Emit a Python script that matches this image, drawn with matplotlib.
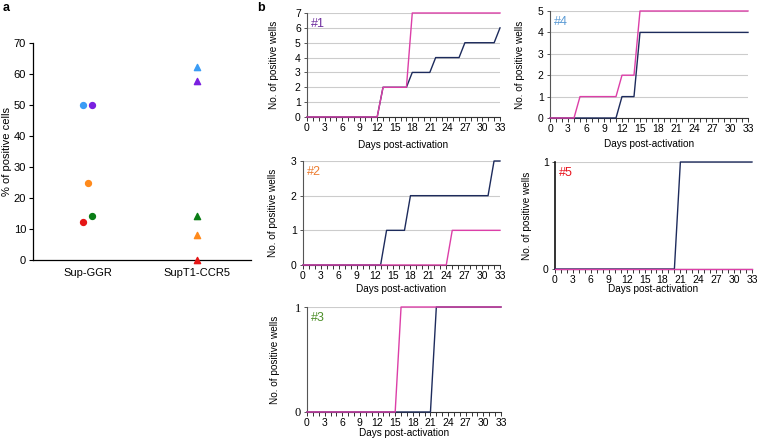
import numpy as np
import matplotlib
matplotlib.use("Agg")
import matplotlib.pyplot as plt
from matplotlib.ticker import MultipleLocator

plt.rcParams['font.family'] = ['Liberation Sans', 'DejaVu Sans']

# panel a: % of positive cells per donor
groups = ["Sup-GGR", "SupT1-CCR5"]
donorColors = ["#3a9cf5", "#7a1fe0", "#ff8a1c", "#e51616", "#0a7d16"]
supGGR = [50.0, 50.0, 24.8, 12.4, 14.3]
supGGRJitter = [-0.04, 0.04, 0.0, -0.04, 0.04]
supT1 = [62.3, 57.8, 8.2, 0.0, 14.2]

# panel b: positive wells per day
days = list(range(34))
pink1 = [0, 0, 0, 0, 0, 0, 0, 0, 0, 0, 0, 0, 0, 2, 2, 2, 2, 2, 7, 7, 7, 7, 7, 7, 7, 7, 7, 7, 7, 7, 7, 7, 7, 7]
navy1 = [0, 0, 0, 0, 0, 0, 0, 0, 0, 0, 0, 0, 0, 2, 2, 2, 2, 2, 3, 3, 3, 3, 4, 4, 4, 4, 4, 5, 5, 5, 5, 5, 5, 6]
pink4 = [0, 0, 0, 0, 0, 1, 1, 1, 1, 1, 1, 1, 2, 2, 2, 5, 5, 5, 5, 5, 5, 5, 5, 5, 5, 5, 5, 5, 5, 5, 5, 5, 5, 5]
navy4 = [0, 0, 0, 0, 0, 0, 0, 0, 0, 0, 0, 0, 1, 1, 1, 4, 4, 4, 4, 4, 4, 4, 4, 4, 4, 4, 4, 4, 4, 4, 4, 4, 4, 4]
pink2 = [0, 0, 0, 0, 0, 0, 0, 0, 0, 0, 0, 0, 0, 0, 0, 0, 0, 0, 0, 0, 0, 0, 0, 0, 0, 1, 1, 1, 1, 1, 1, 1, 1, 1]
navy2 = [0, 0, 0, 0, 0, 0, 0, 0, 0, 0, 0, 0, 0, 0, 1, 1, 1, 1, 2, 2, 2, 2, 2, 2, 2, 2, 2, 2, 2, 2, 2, 2, 3, 3]
pink5 = [0, 0, 0, 0, 0, 0, 0, 0, 0, 0, 0, 0, 0, 0, 0, 0, 0, 0, 0, 0, 0, 0, 0, 0, 0, 0, 0, 0, 0, 0, 0, 0, 0, 0]
navy5 = [0, 0, 0, 0, 0, 0, 0, 0, 0, 0, 0, 0, 0, 0, 0, 0, 0, 0, 0, 0, 0, 1, 1, 1, 1, 1, 1, 1, 1, 1, 1, 1, 1, 1]
pink3 = [0, 0, 0, 0, 0, 0, 0, 0, 0, 0, 0, 0, 0, 0, 0, 0, 1, 1, 1, 1, 1, 1, 1, 1, 1, 1, 1, 1, 1, 1, 1, 1, 1, 1]
navy3 = [0, 0, 0, 0, 0, 0, 0, 0, 0, 0, 0, 0, 0, 0, 0, 0, 0, 0, 0, 0, 0, 0, 1, 1, 1, 1, 1, 1, 1, 1, 1, 1, 1, 1]

PINK = "#dc3fa8"
NAVY = "#1d2b5c"
W, H = 758.0, 442.0


def box(left, top, right, bottom):
    # pixel box -> figure fraction
    return [left / W, 1 - bottom / H, (right - left) / W, (bottom - top) / H]


def panelA(fig):
    ax = fig.add_axes(box(33, 43, 251, 260))
    for i in range(len(supGGR)):
        ax.scatter(0 + supGGRJitter[i], supGGR[i], s=18, color=donorColors[i], marker="o", zorder=3, clip_on=False)
        ax.scatter(1, supT1[i], s=20, color=donorColors[i], marker="^", zorder=3, clip_on=False)
    ax.set_xlim(-0.5, 1.5)
    ax.set_ylim(0, 70)
    ax.yaxis.set_major_locator(MultipleLocator(10))
    ax.set_xticks([0, 1])
    ax.set_xticklabels(groups, fontsize=8)
    ax.tick_params(axis="y", labelsize=8, length=3, width=0.8, pad=2)
    ax.tick_params(axis="x", length=0, pad=6)
    ax.set_ylabel("% of positive cells", fontsize=8)
    ax.yaxis.set_label_coords((12 - 33) / 218.0, 0.5)
    for s in ["top", "right"]:
        ax.spines[s].set_visible(False)
    for s in ["left", "bottom"]:
        ax.spines[s].set_linewidth(0.9)
    return ax


def panelB(fig, rect, navy, pink, ymax, tag, tagColor, labelX, labelY, serifTicks=False):
    ax = fig.add_axes(box(*rect))
    ax.plot(days, navy, color=NAVY, lw=1.0, clip_on=False, zorder=3)
    ax.plot(days, pink, color=PINK, lw=1.0, clip_on=False, zorder=4)
    ax.set_xlim(0, 33)
    ax.set_ylim(0, ymax)
    ax.xaxis.set_major_locator(MultipleLocator(3))
    ax.xaxis.set_minor_locator(MultipleLocator(1))
    ax.yaxis.set_major_locator(MultipleLocator(1))
    ax.grid(True, axis="y", color="#cccccc", lw=0.8)
    ax.set_axisbelow(True)
    ax.tick_params(axis="x", which="both", direction="out", length=3, width=0.7, labelsize=7.5, pad=1, color="#333333")
    ax.tick_params(axis="y", direction="out", length=2.5, width=0.7, labelsize=7.5, pad=2, color="#555555")
    if serifTicks:
        for t in ax.get_yticklabels():
            t.set_family("Liberation Serif")
            t.set_fontsize(9)
    for s in ["top", "right"]:
        ax.spines[s].set_visible(False)
    ax.spines["left"].set_color("#555555")
    ax.spines["bottom"].set_color("#333333")
    ax.set_xlabel("Days post-activation", fontsize=7.2, va="center")
    ax.xaxis.set_label_coords(0.5, (rect[3] - labelY) / (rect[3] - rect[1]))
    ax.set_ylabel("No. of positive wells", fontsize=7.2)
    ax.yaxis.set_label_coords((labelX - rect[0]) / (rect[2] - rect[0]), 0.5)
    ax.text(0.02, 0.95, tag, transform=ax.transAxes, color=tagColor, fontsize=9, va="top", ha="left")
    return ax


def createFigure():
    fig = plt.figure(figsize=(7.58, 4.42), dpi=100)
    panelA(fig)
    panelB(fig, (307, 13, 500, 117), navy1, pink1, 7, "#1", "#7030a0", 279, 145)
    panelB(fig, (550, 11, 748, 118), navy4, pink4, 5, "#4", "#5b9bd5", 525, 144)
    panelB(fig, (303, 161, 500, 265), navy2, pink2, 3, "#2", "#ed7d31", 278, 289)
    ax5 = panelB(fig, (555, 162, 752, 269), navy5, pink5, 1, "#5", "#e8141e", 532, 289)
    ax5.spines["left"].set_color("#111111")
    ax5.spines["left"].set_linewidth(1.2)
    panelB(fig, (307, 307, 501, 412), navy3, pink3, 1, "#3", "#4e8f2a", 280, 433, serifTicks=True)
    fig.text(3 / W, 1 - 2 / H, "a", fontsize=9, fontweight="bold", va="top")
    fig.text(257 / W, 1 - 2 / H, "b", fontsize=9, fontweight="bold", va="top")
    fig.savefig("out.png", dpi=100)


createFigure()
